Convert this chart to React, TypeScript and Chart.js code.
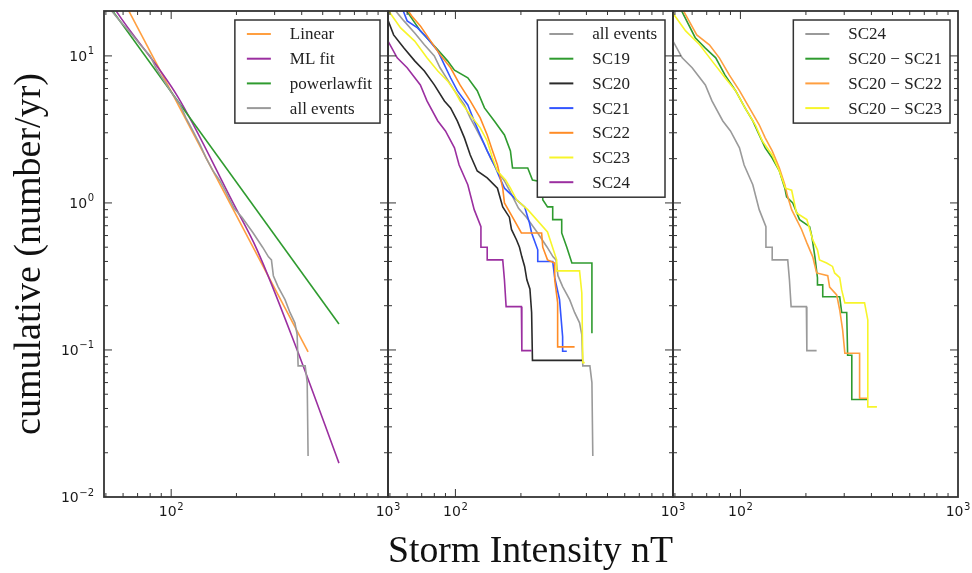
import React, { useEffect, useRef } from 'react';
import { Chart, registerables } from 'chart.js';

Chart.register(...registerables);
Chart.defaults.font.family = 'DejaVu Sans';

type P = [number, number];

// ---- axis ticks (labels are 10^exponent) ----
const xTickValues = [100, 1000];
const xTickExponents = ['2', '3'];
const yTickValues = [0.01, 0.1, 1, 10];
const yTickExponents = ['−2', '−1', '0', '1'];
const tickBase = '10';
const xMin = 49;
const xMax = 1000;
const yMin = 0.01;
const yMax = 20.2;

// ---- panel 1: fits ----
const linearFit: P[] = [[60, 24], [428, 0.097]];
const mlFit: P[] = [[53, 22.8], [56, 20], [107, 5.3], [193, 1], [249, 0.48], [381, 0.1], [594, 0.017]];
const powerlawFit: P[] = [[52, 21.6], [594, 0.15]];

// ---- all events (panel 1 & 2) ----
const allEvents: P[] = [
  [52, 21], [58, 17.3], [65, 14.3], [72, 11.9], [80, 10], [85, 8.3], [92, 6.9], [99, 5.8],
  [110, 4.64], [117, 3.79], [126, 3.09], [136, 2.48], [145, 2.02], [156, 1.65], [168, 1.41],
  [177, 1.22], [195, 0.92], [212, 0.8], [238, 0.63], [264, 0.5], [281, 0.43], [290, 0.41],
  [296, 0.32], [311, 0.27], [335, 0.22], [353, 0.18], [372, 0.153], [381, 0.127], [385, 0.078],
  [415, 0.078], [424, 0.06], [428, 0.019],
];

// ---- panel 2: solar cycles ----
const sc19: P[] = [
  [58, 21.5], [69, 14.8], [83, 11.0], [92, 9.25], [99, 8.0], [114, 7.1], [126, 5.8], [136, 4.43],
  [151, 3.61], [168, 2.9], [179, 2.26], [183, 1.73], [215, 1.73], [226, 1.43], [252, 1.39],
  [252, 1.05], [265, 0.94], [280, 0.94], [280, 0.77], [308, 0.77], [308, 0.625], [325, 0.5],
  [343, 0.39], [424, 0.39], [424, 0.13],
];
const sc20: P[] = [
  [49, 17.5], [52, 13.9], [58, 11.3], [65, 9.25], [72, 7.9], [80, 6.35], [89, 4.94], [95, 4.43],
  [102, 3.61], [110, 2.77], [117, 2.12], [126, 1.65], [140, 1.48], [156, 1.26], [165, 0.94],
  [177, 0.8], [181, 0.66], [191, 0.56], [197, 0.5], [202, 0.43], [208, 0.37], [213, 0.3],
  [220, 0.26], [224, 0.18], [226, 0.085], [385, 0.085],
];
const sc21: P[] = [
  [57, 21], [60, 17.3], [67, 15.5], [74, 13.3], [83, 10.8], [89, 8.7], [95, 7.1], [102, 5.8],
  [114, 4.64], [122, 3.61], [130, 2.9], [140, 2.26], [151, 1.81], [160, 1.48], [168, 1.26],
  [191, 1.05], [208, 0.94], [219, 0.73], [224, 0.625], [239, 0.48], [239, 0.4], [280, 0.4],
  [286, 0.31], [301, 0.22], [311, 0.123], [311, 0.098], [325, 0.098],
];
const sc22: P[] = [
  [59, 21.5], [63, 18.7], [69, 16.0], [77, 12.6], [85, 10.2], [95, 8.3], [105, 6.35], [117, 4.94],
  [130, 3.79], [140, 2.9], [148, 2.26], [156, 1.81], [161, 1.48], [165, 1.26], [168, 1.0],
  [183, 0.8], [201, 0.625], [249, 0.625], [252, 0.5], [265, 0.41], [286, 0.39], [286, 0.3],
  [295, 0.21], [295, 0.105], [353, 0.105],
];
const sc23: P[] = [
  [49, 20.5], [56, 15.5], [65, 12.6], [74, 9.7], [83, 7.9], [92, 6.76], [99, 5.8], [105, 4.94],
  [117, 3.97], [130, 3.24], [140, 2.64], [148, 2.02], [156, 1.65], [170, 1.43], [179, 1.26],
  [191, 1.05], [215, 0.9], [265, 0.635], [292, 0.41], [292, 0.345], [372, 0.345], [381, 0.244],
  [385, 0.082], [393, 0.082],
];
const sc24: P[] = [
  [49, 12.6], [54, 9.7], [60, 8.3], [69, 6.35], [74, 4.94], [83, 3.61], [90, 3.09], [99, 2.37],
  [104, 1.81], [114, 1.33], [122, 0.9], [131, 0.69], [131, 0.5], [140, 0.5], [140, 0.41],
  [165, 0.41], [168, 0.3], [171, 0.197], [201, 0.197], [202, 0.099], [224, 0.099],
];

// ---- panel 3: combined cycles ----
const sc20to21: P[] = [
  [53, 21], [62, 13.3], [69, 11.3], [77, 9.7], [85, 7.4], [95, 5.8], [105, 4.43], [114, 3.61],
  [122, 2.9], [130, 2.37], [140, 2.02], [151, 1.65], [160, 1.26], [163, 1.1], [174, 1.0],
  [187, 0.77], [208, 0.69], [213, 0.59], [220, 0.43], [226, 0.31], [226, 0.277], [239, 0.277],
  [239, 0.23], [286, 0.23], [292, 0.18], [308, 0.18], [311, 0.092], [325, 0.092], [325, 0.046],
  [385, 0.046],
];
const sc20to22: P[] = [
  [54, 21], [63, 13.9], [72, 11.9], [80, 9.7], [89, 7.4], [99, 5.8], [110, 4.43], [122, 3.4],
  [130, 2.77], [140, 2.26], [151, 1.73], [160, 1.33], [165, 1.1], [172, 0.9], [191, 0.66],
  [202, 0.535], [215, 0.43], [224, 0.334], [252, 0.32], [257, 0.268], [277, 0.237], [286, 0.187],
  [295, 0.137], [302, 0.095], [353, 0.095], [353, 0.047], [385, 0.047],
];
const sc20to23: P[] = [
  [49, 19.5], [56, 14.8], [65, 11.9], [74, 9.25], [85, 7.1], [95, 5.8], [105, 4.43], [117, 3.4],
  [126, 2.64], [140, 2.12], [151, 1.65], [161, 1.26], [172, 1.22], [181, 0.855], [202, 0.77],
  [215, 0.56], [226, 0.48], [231, 0.41], [249, 0.39], [265, 0.37], [271, 0.334], [286, 0.31],
  [292, 0.256], [302, 0.209], [372, 0.209], [385, 0.16], [385, 0.041], [424, 0.041],
];

// ---- colours ----
const cOrange = '#ff9f40';
const cOrange2 = '#ff8c26';
const cPurple = '#9b2fa0';
const cGreen = '#2f9b2f';
const cGray = '#9a9a9a';
const cBlack = '#2a2a2a';
const cBlue = '#3355ff';
const cYellow = '#f7f52a';

type Series = { label: string; data: P[]; color: string; smooth?: boolean };

const panel1: Series[] = [
  { label: 'Linear', data: linearFit, color: cOrange },
  { label: 'ML fit', data: mlFit, color: cPurple, smooth: true },
  { label: 'powerlawfit', data: powerlawFit, color: cGreen },
  { label: 'all events', data: allEvents, color: cGray },
];
const panel2: Series[] = [
  { label: 'all events', data: allEvents, color: cGray },
  { label: 'SC19', data: sc19, color: cGreen },
  { label: 'SC20', data: sc20, color: cBlack },
  { label: 'SC21', data: sc21, color: cBlue },
  { label: 'SC22', data: sc22, color: cOrange2 },
  { label: 'SC23', data: sc23, color: cYellow },
  { label: 'SC24', data: sc24, color: cPurple },
];
const panel3: Series[] = [
  { label: 'SC24', data: sc24, color: cGray },
  { label: 'SC20 − SC21', data: sc20to21, color: cGreen },
  { label: 'SC20 − SC22', data: sc20to22, color: cOrange },
  { label: 'SC20 − SC23', data: sc20to23, color: cYellow },
];

const baseFont = '14px "DejaVu Sans"';
const expFont = '10px "DejaVu Sans"';

function drawPow(ctx: any, exp: string, x: number, baseline: number, align: 'center' | 'right') {
  ctx.font = baseFont;
  const wb = ctx.measureText(tickBase).width;
  ctx.font = expFont;
  const we = ctx.measureText(exp).width;
  const total = wb + we + 0.5;
  const left = align === 'center' ? x - total / 2 : x - total;
  ctx.textAlign = 'left';
  ctx.textBaseline = 'alphabetic';
  ctx.font = baseFont;
  ctx.fillText(tickBase, left, baseline);
  ctx.font = expFont;
  ctx.fillText(exp, left + wb + 0.5, baseline - 6.5);
}

const tickLabelPlugin = {
  id: 'powTickLabels',
  afterDraw(chart: any, _args: any, opts: any) {
    const { ctx, chartArea: a, scales } = chart;
    ctx.save();
    ctx.fillStyle = '#1a1a1a';
    scales.x.ticks.forEach((t: any, i: number) => {
      const p = scales.x.getPixelForValue(t.value);
      drawPow(ctx, xTickExponents[i], p, a.bottom + 19, 'center');
    });
    if (opts && opts.showY) {
      scales.y.ticks.forEach((t: any, i: number) => {
        const p = scales.y.getPixelForValue(t.value);
        drawPow(ctx, yTickExponents[i], a.left - 10, p + 5, 'right');
      });
    }
    ctx.restore();
  },
};

const framePlugin = {
  id: 'frameTicks',
  afterDraw(chart: any) {
    const { ctx, chartArea: a, scales } = chart;
    const xs = scales.x;
    const ys = scales.y;
    ctx.save();
    ctx.strokeStyle = '#333';
    ctx.lineWidth = 1;
    const seg = (x1: number, y1: number, x2: number, y2: number) => {
      ctx.beginPath();
      ctx.moveTo(x1, y1);
      ctx.lineTo(x2, y2);
      ctx.stroke();
    };
    const xt = (v: number, len: number) => {
      const p = xs.getPixelForValue(v);
      if (p < a.left + 1 || p > a.right - 1) return;
      seg(p, a.bottom, p, a.bottom - len);
      seg(p, a.top, p, a.top + len);
    };
    const yt = (v: number, len: number) => {
      const p = ys.getPixelForValue(v);
      if (p < a.top + 1 || p > a.bottom - 1) return;
      seg(a.left, p, a.left + len, p);
      seg(a.right, p, a.right - len, p);
    };
    const decades = [0.01, 0.1, 1, 10, 100];
    decades.forEach((d) => {
      for (let m = 2; m <= 9; m++) {
        const v = m * d;
        if (v > xMin && v < xMax) xt(v, 4);
        if (v > yMin && v < yMax) yt(v, 4);
      }
    });
    xTickValues.forEach((v) => xt(v, 8));
    yTickValues.forEach((v) => yt(v, 8));
    ctx.lineWidth = 1.8;
    ctx.strokeRect(a.left, a.top, a.right - a.left, a.bottom - a.top);
    ctx.restore();
  },
};

const legendPlugin = {
  id: 'boxLegend',
  afterDatasetsDraw(chart: any) {
    const { ctx, chartArea: a } = chart;
    const ds = chart.data.datasets;
    ctx.save();
    ctx.font = '17px "Liberation Serif"';
    const tw = Math.max(...ds.map((d: any) => ctx.measureText(d.label).width));
    const padL = 12, lineLen = 24, gap = 19, padR = 8, rowH = 24.7;
    const w = padL + lineLen + gap + tw + padR;
    const h = 14 + (ds.length - 1) * rowH + 15;
    const right = a.right - 8;
    const top = a.top + 9;
    const left = right - w;
    ctx.fillStyle = '#ffffff';
    ctx.fillRect(left, top, w, h);
    ctx.strokeStyle = '#333';
    ctx.lineWidth = 1.5;
    ctx.strokeRect(left, top, w, h);
    ds.forEach((d: any, i: number) => {
      const y = top + 14 + i * rowH;
      ctx.strokeStyle = d.borderColor;
      ctx.lineWidth = 2;
      ctx.beginPath();
      ctx.moveTo(left + padL, y);
      ctx.lineTo(left + padL + lineLen, y);
      ctx.stroke();
      ctx.fillStyle = '#222';
      ctx.textAlign = 'left';
      ctx.textBaseline = 'middle';
      ctx.fillText(d.label, left + padL + lineLen + gap, y + 1);
    });
    ctx.restore();
  },
};

const W = 972;
const H = 573;
const plotTop = 11;
const xAxisHeight = 76;
const panelLeft = [104, 388, 673];
const panelRight = [388, 673, 958];

function makeConfig(idx: number, series: Series[]): any {
  return {
    type: 'line',
    data: {
      datasets: series.map((s, i) => ({
        label: s.label,
        data: s.data.map(([x, y]) => ({ x, y })),
        borderColor: s.color,
        backgroundColor: s.color,
        borderWidth: 1.6,
        pointRadius: 0,
        fill: false,
        tension: s.smooth ? 0.4 : 0,
        cubicInterpolationMode: s.smooth ? 'monotone' : 'default',
        order: -i,
      })),
    },
    options: {
      animation: false,
      responsive: false,
      devicePixelRatio: 1,
      events: [],
      layout: {
        padding: {
          left: idx === 0 ? 0 : panelLeft[idx],
          right: W - panelRight[idx],
          top: plotTop,
          bottom: 0,
        },
      },
      plugins: {
        legend: { display: false },
        tooltip: { enabled: false },
        powTickLabels: { showY: idx === 0 },
      },
      scales: {
        x: {
          type: 'logarithmic',
          min: xMin,
          max: xMax,
          grid: { display: false, drawTicks: false },
          border: { display: false },
          ticks: { display: false, autoSkip: false, maxRotation: 0 },
          afterBuildTicks: (s: any) => {
            s.ticks = xTickValues.map((v) => ({ value: v }));
          },
          afterFit: (s: any) => {
            s.height = xAxisHeight;
            s.paddingLeft = 0;
            s.paddingRight = 0;
          },
          title: {
            display: idx === 1,
            text: 'Storm Intensity nT',
            color: '#111',
            font: { family: 'Liberation Serif', size: 38, lineHeight: 1 },
            padding: { top: 0, bottom: 2 },
          },
        },
        y: {
          type: 'logarithmic',
          min: yMin,
          max: yMax,
          display: idx === 0,
          grid: { display: false, drawTicks: false },
          border: { display: false },
          ticks: { display: false, autoSkip: false },
          afterBuildTicks: (s: any) => {
            s.ticks = yTickValues.map((v) => ({ value: v }));
          },
          afterFit: (s: any) => {
            if (idx === 0) {
              s.width = panelLeft[0];
              s.paddingTop = 0;
              s.paddingBottom = 0;
            }
          },
          title: {
            display: idx === 0,
            text: 'cumulative (number/yr)',
            color: '#111',
            font: { family: 'Liberation Serif', size: 38, lineHeight: 1 },
            padding: { top: 11, bottom: 0 },
          },
        },
      },
    },
    plugins: [legendPlugin, framePlugin, tickLabelPlugin],
  };
}

function Panel({ idx, series }: { idx: number; series: Series[] }) {
  const ref = useRef<HTMLCanvasElement | null>(null);
  useEffect(() => {
    if (!ref.current) return;
    const chart = new Chart(ref.current, makeConfig(idx, series));
    return () => chart.destroy();
  }, [idx, series]);
  return (
    <canvas
      ref={ref}
      width={W}
      height={H}
      style={{ position: 'absolute', left: 0, top: 0, width: W, height: H }}
    />
  );
}

export default function App() {
  return (
    <div
      style={{
        position: 'absolute',
        left: 0,
        top: 0,
        width: W,
        height: H,
        background: '#ffffff',
        overflow: 'hidden',
      }}
    >
      <Panel idx={0} series={panel1} />
      <Panel idx={1} series={panel2} />
      <Panel idx={2} series={panel3} />
    </div>
  );
}
